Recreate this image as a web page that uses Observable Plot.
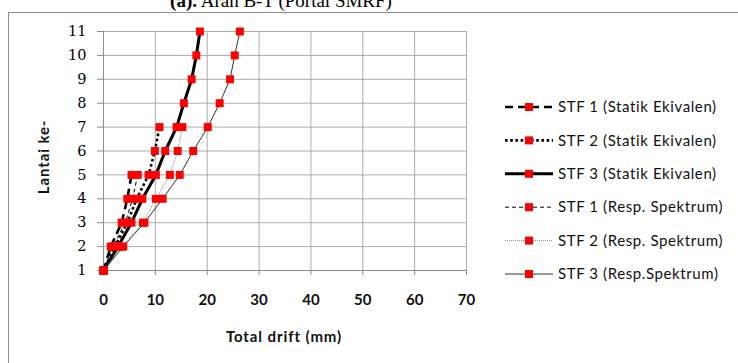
<!DOCTYPE html>
<html><head><meta charset="utf-8">
<script src="https://cdn.jsdelivr.net/npm/d3@7"></script>
<script src="https://cdn.jsdelivr.net/npm/@observablehq/plot@0.6"></script>
<style>
body{margin:0;background:#fff}
#chart{position:relative;width:738px;height:363px;overflow:hidden;background:#fff}
</style>
</head><body><div id="chart"></div>
<script>
// ---- data ----
const floors = [1,2,3,4,5,6,7,8,9,10,11];
const xTicks = [0,10,20,30,40,50,60,70];
const yTicks = [1,2,3,4,5,6,7,8,9,10,11];
const seriesNames = [
  "STF 1 (Statik Ekivalen)",
  "STF 2 (Statik Ekivalen)",
  "STF 3 (Statik Ekivalen)",
  "STF 1 (Resp. Spektrum)",
  "STF 2 (Resp. Spektrum)",
  "STF 3 (Resp.Spektrum)"
];
const stf1Static = [0, 1.4, 3.5, 4.6, 5.4];
const stf2Static = [0, 2.2, 4.6, 6.4, 8.7, 9.9, 10.8];
const stf3Static = [0, 2.8, 5.4, 7.5, 10.1, 11.9, 14.1, 15.5, 17.0, 17.9, 18.6];
const stf1RS     = [0, 1.8, 4.2, 5.6, 6.6];
const stf2RS     = [0, 3.5, 7.6, 10.1, 12.8, 14.3, 15.2];
const stf3RS     = [0, 3.8, 7.9, 11.4, 14.7, 17.3, 20.1, 22.4, 24.4, 25.3, 26.3];
const seriesValues = [stf1Static, stf2Static, stf3Static, stf1RS, stf2RS, stf3RS];
const titleBold = "(a).";
const titleRest = " Arah B-T (Portal SMRF)";
const xLabel = "Total drift (mm)";
const yLabel = "Lantai ke-";

// ---- styles ----
const lineStyles = [
  {stroke:"#000", strokeWidth:2.6, strokeDasharray:"8,5"},
  {stroke:"#000", strokeWidth:2.6, strokeDasharray:"2.6,2.6"},
  {stroke:"#000", strokeWidth:3, strokeDasharray:null},
  {stroke:"#000", strokeWidth:1, strokeDasharray:"4,3"},
  {stroke:"#888", strokeWidth:1, strokeDasharray:"1,1"},
  {stroke:"#333", strokeWidth:1, strokeDasharray:null}
];

const rows = seriesValues.flatMap((vals, i) =>
  vals.map((v, j) => ({series: seriesNames[i], floor: floors[j], drift: v})));

const seriesMarks = seriesNames.flatMap((name, i) => {
  const d = rows.filter(r => r.series === name);
  const st = lineStyles[i];
  const opts = {x:"drift", y:"floor", stroke: st.stroke, strokeWidth: st.strokeWidth, strokeLinecap:"butt"};
  if (st.strokeDasharray) opts.strokeDasharray = st.strokeDasharray;
  return [
    Plot.line(d, opts),
    Plot.dot(d, {x:"drift", y:"floor", symbol:"square", r:4.5, fill:"#ff0000", stroke:null})
  ];
});

const plot = Plot.plot({
  width: 738, height: 363,
  marginLeft: 103, marginRight: 272, marginTop: 31, marginBottom: 93,
  style: {background:"transparent", color:"#000"},
  x: {domain:[0,70]},
  y: {domain:[1,11]},
  marks: [
    Plot.gridX(xTicks, {stroke:"#ababab", strokeOpacity:1}),
    Plot.gridY(yTicks, {stroke:"#ababab", strokeOpacity:1}),
    Plot.ruleX([0], {stroke:"#8a8a8a"}),
    Plot.ruleY([1], {stroke:"#8a8a8a"}),
    Plot.axisY(yTicks, {tickSize:6, tickPadding:11, stroke:"#8a8a8a", fill:"#000",
      fontFamily:"DejaVu Serif", fontSize:14.5, label:null}),
    Plot.axisX(xTicks, {tickSize:5, tickPadding:19, stroke:"#8a8a8a", fill:"#111",
      fontFamily:"Lato", fontSize:15, fontWeight:"bold", label:null}),
    ...seriesMarks
  ]
});

const chart = document.getElementById("chart");
chart.appendChild(plot);
const svg = d3.select(plot);

// outer chart border (behind everything)
svg.insert("rect", ":first-child")
  .attr("x", 8.5).attr("y", 12.5).attr("width", 900).attr("height", 500)
  .attr("fill", "#fff").attr("stroke", "#8c8c8c").attr("stroke-width", 1);

// title (cut off at the top as in the original)
const t = svg.append("text")
  .attr("x", 281).attr("y", 7).attr("text-anchor", "middle")
  .attr("font-family", "Liberation Serif").attr("font-size", 19).attr("fill", "#000");
t.append("tspan").attr("font-weight", "bold").text(titleBold);
t.append("tspan").text(titleRest);

// axis titles
svg.append("text")
  .attr("x", 284).attr("y", 342).attr("text-anchor", "middle")
  .attr("font-family", "Lato").attr("font-weight", "bold").attr("font-size", 15)
  .attr("letter-spacing", 0.9)
  .attr("fill", "#111").text(xLabel);
svg.append("text")
  .attr("transform", "translate(49,157) rotate(-90)").attr("text-anchor", "middle")
  .attr("font-family", "Lato").attr("font-weight", "bold").attr("font-size", 15)
  .attr("letter-spacing", 0.9)
  .attr("fill", "#111").text(yLabel);

// legend
const lg = svg.append("g").attr("text-anchor", "start");
const legendY0 = 107, legendDy = 33.4;
seriesNames.forEach((name, i) => {
  const y = legendY0 + i * legendDy;
  const st = lineStyles[i];
  const g = lg.append("g");
  g.append("line").attr("x1", 505).attr("x2", 553).attr("y1", y).attr("y2", y)
    .attr("stroke", st.stroke).attr("stroke-width", st.strokeWidth)
    .attr("stroke-dasharray", st.strokeDasharray);
  g.append("rect").attr("x", 525).attr("y", y - 4).attr("width", 8).attr("height", 8)
    .attr("fill", "#ff0000");
  g.append("text").attr("x", 558).attr("y", y).attr("dy", "0.35em")
    .attr("text-anchor", "start")
    .attr("font-family", "Lato").attr("font-size", 15).attr("letter-spacing", 0.6)
    .attr("fill", "#111")
    .text(name);
});
</script></body></html>
